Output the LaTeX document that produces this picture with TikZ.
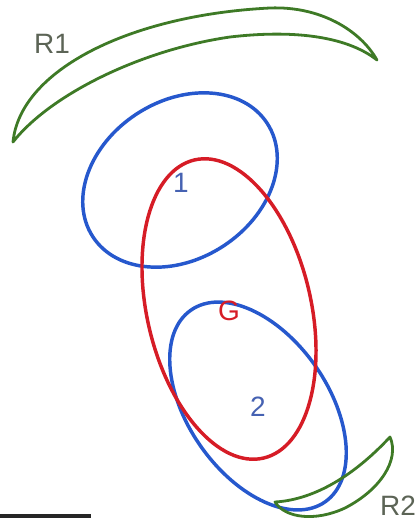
\documentclass[tikz,border=0pt]{standalone}
\usepackage{fontspec}
\setmainfont{Liberation Sans}

\definecolor{ringblue}{RGB}{38,88,205}
\definecolor{ringred}{RGB}{214,28,38}
\definecolor{leafgreen}{RGB}{62,122,38}
\definecolor{labblue}{RGB}{70,98,178}
\definecolor{labgray}{RGB}{92,100,86}

\begin{document}
\begin{tikzpicture}[x=0.75pt, y=-0.75pt, line join=round]
\tikzset{ring/.style={line width=2.6pt},
    leaf/.style={draw=leafgreen, line width=2.1pt},
    lab/.style={inner sep=0pt, font=\fontsize{21}{25}\selectfont}}

\useasboundingbox (0,0) rectangle (417,521);

% regions 1 and 2
\draw[ring, ringblue, shift={(180,180)}, rotate=33] (0,0) ellipse [x radius=104, y radius=79];
\draw[ring, ringblue, shift={(258,406)}, rotate=35] (0,0) ellipse [x radius=70, y radius=117];

% region G
\draw[ring, ringred, shift={(229,309)}, rotate=13] (0,0) ellipse [x radius=82, y radius=153];

% crescents R1 and R2
\draw[leaf] (13,142) .. controls (20,70) and (130,15) .. (270,8)
    .. controls (320,6) and (360,30) .. (377,60)
    .. controls (345,35) and (290,30) .. (230,37)
    .. controls (140,50) and (50,95) .. (13,142) -- cycle;
\draw[leaf] (390,437) .. controls (400,460) and (380,490) .. (345,508)
    .. controls (315,522) and (285,518) .. (275,502)
    .. controls (310,500) and (350,480) .. (390,437) -- cycle;

% labels
\node[lab, text=labgray] (r1) at (52,44) {R1};
\node[lab, text=labgray] (r2) at (398,506) {R2};
\node[lab, text=labblue] (l1) at (181,183) {1};
\node[lab, text=ringred] (lg) at (229,311) {G};
\node[lab, text=labblue] (l2) at (258,407) {2};

% scale bar
\draw[line width=2.4pt, black!85] (0,516) -- (91,516);

\end{tikzpicture}
\end{document}
